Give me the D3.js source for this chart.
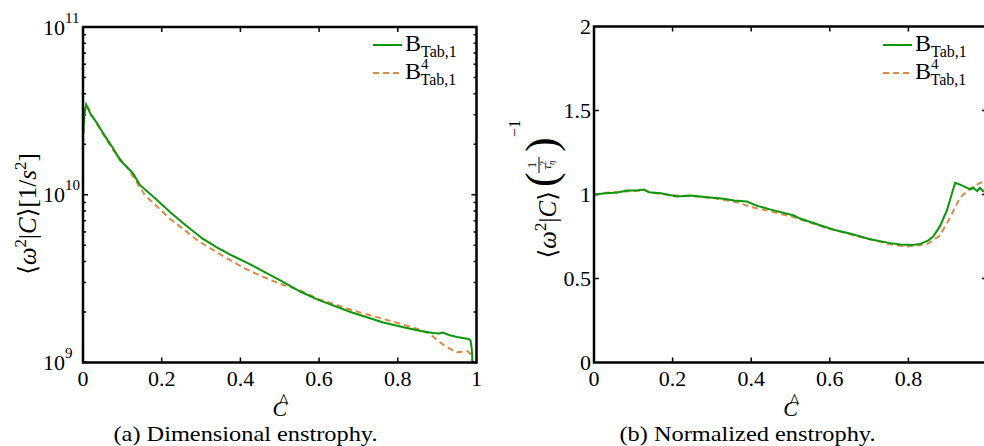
<!DOCTYPE html>
<html><head><meta charset="utf-8">
<script src="https://cdn.jsdelivr.net/npm/d3@7/dist/d3.min.js"></script>
<style>
html,body{margin:0;padding:0;background:#fff;}
svg{display:block;}
text{font-family:"Liberation Serif","DejaVu Serif",serif;fill:#000;}
</style></head><body>
<svg id="chart" width="984" height="446" font-family="Liberation Serif, DejaVu Serif, serif"></svg>
<script>
// ---- data ----
const xTicks = [0, 0.2, 0.4, 0.6, 0.8, 1];
const xTickLabels = ["0", "0.2", "0.4", "0.6", "0.8", "1"];
const leftYTicks = [1e9, 1e10, 1e11];
const leftYExp = ["9", "10", "11"];
const rightYTicks = [0, 0.5, 1, 1.5, 2];
const rightYTickLabels = ["0", "0.5", "1", "1.5", "2"];
const seriesNames = ["Tab,1", "Tab,1"];

// Panel (a): dimensional enstrophy
const aGreenC = [0, 0.004, 0.008, 0.02, 0.036, 0.055, 0.076, 0.094, 0.127, 0.145, 0.188, 0.221, 0.26, 0.305, 0.34, 0.374, 0.425, 0.5, 0.552, 0.595, 0.68, 0.763, 0.82, 0.865, 0.89, 0.905, 0.915, 0.93, 0.95, 0.965, 0.98, 0.985, 0.988, 0.99];
const aGreenV = [2.3e10, 3.1e10, 3.45e10, 3.0e10, 2.67e10, 2.25e10, 1.9e10, 1.61e10, 1.34e10, 1.14e10, 9.3e9, 7.9e9, 6.6e9, 5.45e9, 4.85e9, 4.4e9, 3.85e9, 3.1e9, 2.65e9, 2.38e9, 2.0e9, 1.73e9, 1.61e9, 1.53e9, 1.5e9, 1.49e9, 1.51e9, 1.46e9, 1.42e9, 1.4e9, 1.38e9, 1.35e9, 1.2e9, 1.0e9];
const aOrangeC = [0, 0.005, 0.01, 0.036, 0.076, 0.112, 0.158, 0.221, 0.293, 0.35, 0.405, 0.45, 0.5, 0.55, 0.6, 0.7, 0.8, 0.86, 0.883, 0.905, 0.926, 0.95, 0.977, 0.985, 0.99];
const aOrangeV = [2.0e10, 3.3e10, 3.4e10, 2.62e10, 1.85e10, 1.46e10, 9.9e9, 7.2e9, 5.3e9, 4.4e9, 3.7e9, 3.3e9, 2.95e9, 2.7e9, 2.38e9, 2.0e9, 1.72e9, 1.56e9, 1.47e9, 1.33e9, 1.23e9, 1.15e9, 1.17e9, 1.12e9, 1.0e9];

// Panel (b): normalized enstrophy
const bGreenC = [0, 0.03, 0.06, 0.085, 0.11, 0.127, 0.14, 0.17, 0.212, 0.246, 0.288, 0.33, 0.356, 0.389, 0.414, 0.45, 0.509, 0.524, 0.61, 0.651, 0.7, 0.75, 0.779, 0.81, 0.83, 0.85, 0.863, 0.88, 0.898, 0.91, 0.919, 0.93, 0.94, 0.957, 0.965, 0.975, 0.982, 0.99, 1.0];
const bGreenV = [1.0, 1.008, 1.012, 1.024, 1.024, 1.03, 1.014, 1.008, 0.988, 0.994, 0.984, 0.975, 0.964, 0.958, 0.934, 0.91, 0.875, 0.857, 0.79, 0.768, 0.735, 0.712, 0.703, 0.70, 0.706, 0.725, 0.75, 0.81, 0.905, 1.0, 1.07, 1.06, 1.05, 1.03, 1.04, 1.02, 1.04, 1.02, 1.02];
const bOrangeC = [0, 0.03, 0.06, 0.09, 0.127, 0.15, 0.2, 0.25, 0.3, 0.364, 0.4, 0.45, 0.509, 0.593, 0.65, 0.7, 0.75, 0.796, 0.847, 0.88, 0.906, 0.931, 0.957, 0.983, 1.0];
const bOrangeV = [1.0, 1.01, 1.015, 1.02, 1.025, 1.01, 0.995, 0.99, 0.98, 0.954, 0.925, 0.9, 0.865, 0.80, 0.765, 0.735, 0.705, 0.69, 0.703, 0.756, 0.863, 0.98, 1.035, 1.07, 1.08];

// ---- drawing ----
const GREEN = "#0c960c", ORANGE = "#d98b45";
const svg = d3.select("#chart");

const panels = [
  { x0: 83, x1: 476.5, y0: 362.5, y1: 27, log: true, lastXLabel: true },
  { x0: 594, x1: 987, y0: 362.5, y1: 26.5, log: false, lastXLabel: false }
];

function frame(g, p) {
  g.append("rect").attr("x", p.x0).attr("y", p.y1)
    .attr("width", p.x1 - p.x0).attr("height", p.y0 - p.y1)
    .attr("fill", "none").attr("stroke", "#000").attr("stroke-width", 2.5);
}

function drawPanel(p, idx) {
  const g = svg.append("g");
  const x = d3.scaleLinear().domain([0, 1]).range([p.x0, p.x1]);
  const y = p.log ? d3.scaleLog().domain([1e9, 1e11]).range([p.y0, p.y1])
                  : d3.scaleLinear().domain([0, 2]).range([p.y0, p.y1]);
  const clipId = "clip" + idx;
  svg.append("clipPath").attr("id", clipId).append("rect")
    .attr("x", p.x0).attr("y", p.y1).attr("width", p.x1 - p.x0).attr("height", p.y0 - p.y1 + 2);

  // x ticks bottom + top (inward)
  const xt = xTicks.slice(1, -1);
  g.selectAll(".xb").data(xt).join("line")
    .attr("x1", d => x(d)).attr("x2", d => x(d)).attr("y1", p.y0).attr("y2", p.y0 - 5)
    .attr("stroke", "#000").attr("stroke-width", 1.5);
  g.selectAll(".xt").data(xt).join("line")
    .attr("x1", d => x(d)).attr("x2", d => x(d)).attr("y1", p.y1).attr("y2", p.y1 + 5)
    .attr("stroke", "#000").attr("stroke-width", 1.5);

  // y ticks
  let majors, minors = [];
  if (p.log) {
    majors = leftYTicks;
    [1e9, 1e10].forEach(b => { for (let k = 2; k <= 9; k++) minors.push(b * k); });
  } else {
    majors = rightYTicks.slice(1, -1);
  }
  [[majors, 5], [minors, 3]].forEach(([arr, len]) => {
    g.append("g").selectAll("line").data(arr).join("line")
      .attr("x1", p.x0).attr("x2", p.x0 + len).attr("y1", d => y(d)).attr("y2", d => y(d))
      .attr("stroke", "#000").attr("stroke-width", 1.5);
    g.append("g").selectAll("line").data(arr).join("line")
      .attr("x1", p.x1).attr("x2", p.x1 - len).attr("y1", d => y(d)).attr("y2", d => y(d))
      .attr("stroke", "#000").attr("stroke-width", 1.5);
  });

  // x tick labels
  const xl = p.lastXLabel ? xTicks : xTicks.slice(0, -1);
  g.append("g").selectAll("text").data(xl).join("text")
    .attr("x", d => x(d)).attr("y", 386).attr("text-anchor", "middle")
    .attr("font-size", 22).text((d, i) => xTickLabels[i]);

  // y tick labels
  if (p.log) {
    const t = g.append("g").selectAll("text").data(leftYTicks).join("text")
      .attr("x", 43).attr("y", d => y(d) + 7.5).attr("font-size", 22);
    t.append("tspan").text("10");
    t.append("tspan").attr("dy", -12).attr("font-size", 15).text((d, i) => leftYExp[i]);
  } else {
    g.append("g").selectAll("text").data(rightYTicks).join("text")
      .attr("x", p.x0 - 3).attr("y", d => y(d) + 7.5).attr("text-anchor", "end")
      .attr("font-size", 22).text((d, i) => rightYTickLabels[i]);
  }

  // lines
  const line = d3.line().x(d => x(d[0])).y(d => y(d[1]));
  const gC = p.log ? aGreenC : bGreenC, gV = p.log ? aGreenV : bGreenV;
  const oC = p.log ? aOrangeC : bOrangeC, oV = p.log ? aOrangeV : bOrangeV;
  const lg = g.append("g").attr("clip-path", `url(#${clipId})`);
  lg.append("path").datum(oC.map((c, i) => [c, oV[i]])).attr("d", line)
    .attr("fill", "none").attr("stroke", ORANGE).attr("stroke-width", 2).attr("stroke-dasharray", "6,4");
  lg.append("path").datum(gC.map((c, i) => [c, gV[i]])).attr("d", line)
    .attr("fill", "none").attr("stroke", GREEN).attr("stroke-width", 2);

  frame(g, p);

  // x label C-hat
  const cx = (p.x0 + p.x1) / 2;
  g.append("text").attr("x", cx).attr("y", 416).attr("text-anchor", "middle")
    .attr("font-size", 22).attr("font-style", "italic").text("C");
  g.append("text").attr("x", cx + 4).attr("y", 408).attr("text-anchor", "middle")
    .attr("font-size", 20).text("^");

  // legend
  const lx = p.log ? 373 : 883;
  [[45, GREEN, null, false], [73, ORANGE, "6,4", true]].forEach(([ly, col, dash, sup], i) => {
    g.append("line").attr("x1", lx).attr("x2", lx + 29).attr("y1", ly).attr("y2", ly)
      .attr("stroke", col).attr("stroke-width", 2).attr("stroke-dasharray", dash);
    const t = g.append("text").attr("x", lx + 32).attr("y", ly + 6).attr("font-size", 24);
    t.append("tspan").text("B");
    if (sup) {
      t.append("tspan").attr("dy", -10).attr("font-size", 15).text("4");
      t.append("tspan").attr("dx", -8).attr("dy", 16).attr("font-size", 16).text(seriesNames[i]);
    } else {
      t.append("tspan").attr("dy", 6).attr("font-size", 16).text(seriesNames[i]);
    }
  });
}
panels.forEach(drawPanel);

// y label (a)
{
  const g = svg.append("g").attr("transform", "translate(36,214) rotate(-90)");
  const t = g.append("text").attr("text-anchor", "middle").attr("font-size", 25);
  t.append("tspan").text("⟨");
  t.append("tspan").attr("font-style", "italic").text("ω");
  t.append("tspan").attr("dy", -10).attr("font-size", 17).text("2");
  t.append("tspan").attr("dy", 10).text("|");
  t.append("tspan").attr("font-style", "italic").text("C");
  t.append("tspan").text("⟩[1/");
  t.append("tspan").attr("font-style", "italic").text("s");
  t.append("tspan").attr("dy", -10).attr("font-size", 17).text("2");
  t.append("tspan").attr("dy", 10).text("]");
}
// y label (b)
{
  const g = svg.append("g").attr("transform", "translate(556,191) rotate(-90)");
  const t = g.append("text").attr("x", 0).attr("text-anchor", "end").attr("font-size", 25);
  t.append("tspan").text("⟨");
  t.append("tspan").attr("font-style", "italic").text("ω");
  t.append("tspan").attr("dy", -10).attr("font-size", 17).text("2");
  t.append("tspan").attr("dy", 10).text("|");
  t.append("tspan").attr("font-style", "italic").text("C");
  t.append("tspan").text("⟩");
  g.append("text").attr("x", 4).attr("y", 0).attr("font-size", 44).text("(");
  g.append("text").attr("x", 39).attr("y", 0).attr("font-size", 44).text(")");
  g.append("text").attr("x", 26).attr("y", -20).attr("text-anchor", "middle").attr("font-size", 13).text("1");
  g.append("line").attr("x1", 18).attr("x2", 34).attr("y1", -17).attr("y2", -17).attr("stroke", "#000").attr("stroke-width", 1);
  const d = g.append("text").attr("x", 26).attr("y", -5).attr("text-anchor", "middle").attr("font-size", 13);
  d.append("tspan").attr("font-style", "italic").text("τ");
  d.append("tspan").attr("dy", 3).attr("font-size", 9).attr("font-style", "italic").text("η");
  d.append("tspan").attr("dx", -5).attr("dy", -8).attr("font-size", 9).text("2");
  g.append("text").attr("x", 54).attr("y", -36).attr("font-size", 16).text("−1");
}

// captions
svg.append("text").attr("x", 245.5).attr("y", 441).attr("text-anchor", "middle")
  .attr("font-size", 22).attr("textLength", 264).attr("lengthAdjust", "spacingAndGlyphs")
  .text("(a)  Dimensional enstrophy.");
svg.append("text").attr("x", 747.5).attr("y", 441).attr("text-anchor", "middle")
  .attr("font-size", 22).attr("textLength", 256).attr("lengthAdjust", "spacingAndGlyphs")
  .text("(b)  Normalized enstrophy.");
</script>
</body></html>
